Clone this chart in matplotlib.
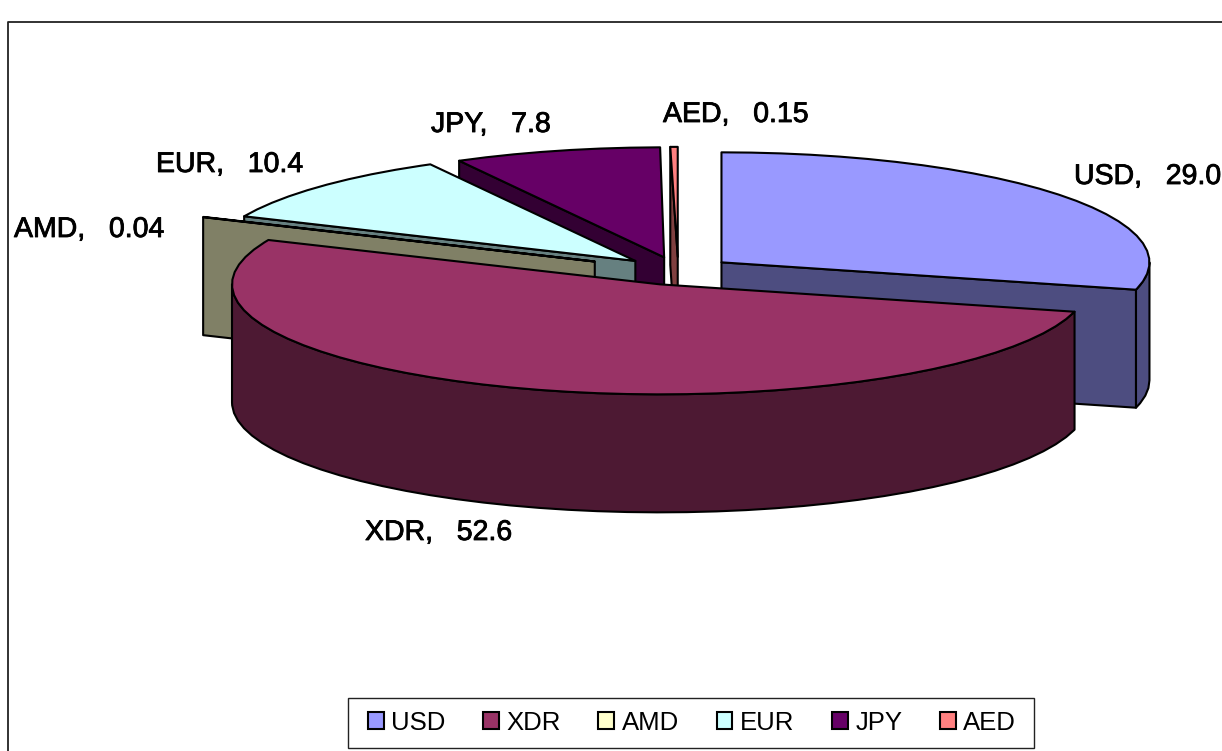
import numpy as np
import matplotlib
matplotlib.use('Agg')
import matplotlib.pyplot as plt
from matplotlib.patches import Polygon, Patch, Rectangle
import matplotlib.patheffects as pe

labels = ['USD', 'XDR', 'AMD', 'EUR', 'JPY', 'AED']
values = [29.0, 52.6, 0.04, 10.4, 7.8, 0.15]
value_text = ['29.0', '52.6', '0.04', '10.4', '7.8', '0.15']

colors = ['#9999FF', '#993366', '#FFFFCC', '#CCFFFF', '#660066', '#FF8080']
side_colors = ['#4D4D80', '#4D1933', '#808066', '#668080', '#330033', '#804040']
explode = [55, 55, 91, 58, 55, 55]
min_sweep = [0, 0, 0, 0, 0, 1.0]
label_pos = [(1074, 177), (365, 533), (14, 230), (156, 165), (431, 125), (663, 115)]

# pie geometry, in pixels of the picture
cx, cy = 678, 271
rx, ry = 428, 110
depth = 118

plt.rcParams['font.family'] = ['Liberation Sans', 'DejaVu Sans']

fig = plt.figure(figsize=(12.22, 7.51), dpi=100)
ax = fig.add_axes([0, 0, 1, 1])
ax.set_xlim(0, 1222)
ax.set_ylim(751, 0)
ax.axis('off')

# outer frame, cut by the edge of the picture on the right and below
ax.plot([8, 8, 1240], [760, 22, 22], color='#222222', lw=1.3, clip_on=False)


def rim(x0, y0, t0, t1):
    t = np.radians(np.r_[np.arange(t0, t1, 4.0), t1])
    return np.column_stack([x0 + rx * np.sin(t), y0 - ry * np.cos(t)])


def draw_face(pts, color, z):
    low = pts[::-1] + [0, depth]
    ax.add_patch(Polygon(np.vstack([pts, low]), closed=True, facecolor=color,
                         edgecolor='black', lw=1.5, joinstyle='round', zorder=z))


total = sum(values)
ends = np.cumsum(values) / total * 360
starts = np.r_[0, ends[:-1]]
mids = (starts + ends) / 2

# back slices first, so the front ones cover them
order = np.argsort(-np.cos(np.radians(mids)))
for z, i in enumerate(order):
    a1 = ends[i]
    a0 = a1 - max(a1 - starts[i], min_sweep[i])
    m = np.radians(mids[i])
    x0 = cx + explode[i] * np.sin(m)
    y0 = cy - explode[i] * ry / rx * np.cos(m)
    apex = np.array([[x0, y0]])
    z = z * 10 + 2

    if 180 <= a0 < 360:
        draw_face(np.vstack([apex, rim(x0, y0, a0, a0)[-1:]]), side_colors[i], z)
    if 0 < a1 <= 180:
        draw_face(np.vstack([apex, rim(x0, y0, a1, a1)[-1:]]), side_colors[i], z)
    lo, hi = max(a0, 90), min(a1, 270)
    if lo < hi:
        draw_face(rim(x0, y0, lo, hi), side_colors[i], z + 1)

    top = np.vstack([apex, rim(x0, y0, a0, a1)])
    ax.add_patch(Polygon(top, closed=True, facecolor=colors[i], edgecolor='black',
                         lw=1.5, joinstyle='round', zorder=z + 2))

for i in range(len(labels)):
    ax.text(label_pos[i][0], label_pos[i][1], labels[i] + ',   ' + value_text[i],
            fontsize=20.5, ha='left', va='center', color='black', zorder=100,
            path_effects=[pe.withStroke(linewidth=0.6, foreground='black')])

# legend box is drawn apart, its padding differs in x and y
ax.add_patch(Rectangle((347.5, 698), 686, 50, facecolor='white', edgecolor='#222222',
                       lw=1.0, zorder=150))
handles = [Patch(facecolor=c, edgecolor='black', lw=1.5) for c in colors]
leg = ax.legend(handles, labels, ncol=6, loc='center',
                bbox_to_anchor=(692 / 1222, 1 - 722.5 / 751), fontsize=18.5,
                frameon=False, handlelength=0.62, handleheight=0.62, handletextpad=0.3,
                columnspacing=1.45, borderpad=0)
leg.set_zorder(200)

fig.savefig('out.png', dpi=100)
